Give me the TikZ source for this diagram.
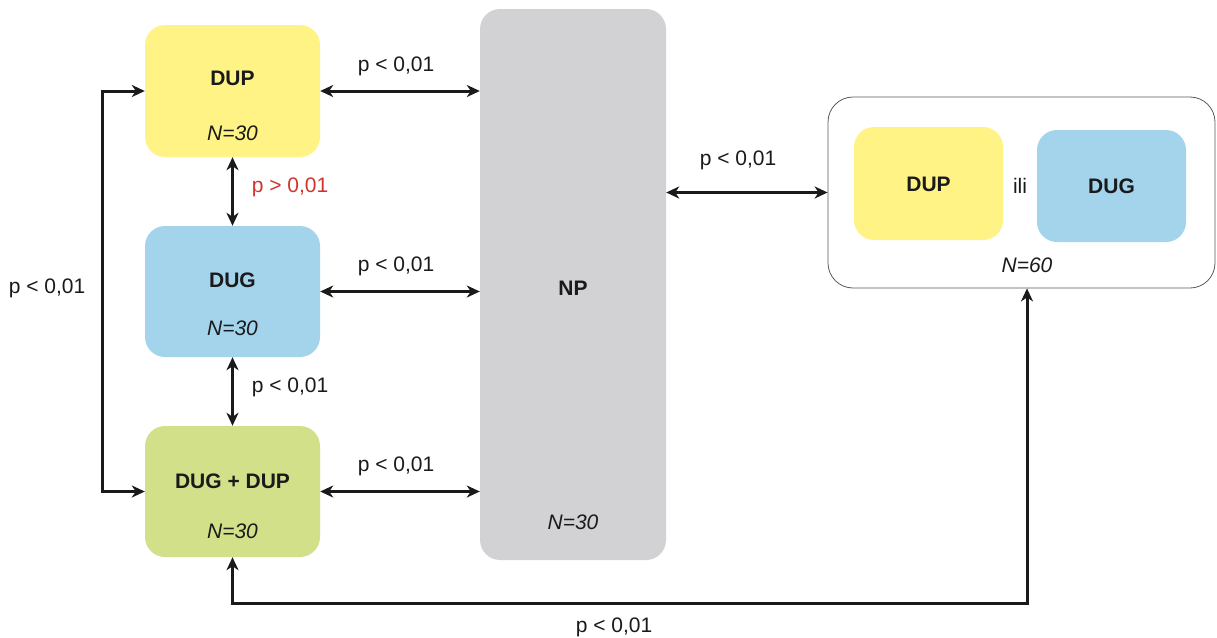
\documentclass[tikz,border=0pt]{standalone}
\usepackage{fontspec}
\setmainfont{Liberation Sans}
\usetikzlibrary{arrows.meta,calc}
\definecolor{cyel}{HTML}{FFF386}
\definecolor{cblu}{HTML}{A3D4EC}
\definecolor{cgrn}{HTML}{D3E08A}
\definecolor{cgry}{HTML}{D2D2D4}
\definecolor{cred}{HTML}{D0342C}
\definecolor{cline}{HTML}{1A1A1A}
\tikzset{
  box/.style={rectangle, rounded corners=20pt, draw=none, inner sep=0pt},
  bt/.style={font=\fontsize{21}{25}\selectfont\bfseries, text=cline},
  it/.style={font=\fontsize{21}{25}\selectfont\itshape, text=cline},
  lb/.style={font=\fontsize{21}{25}\selectfont, text=cline},
  conn/.style={line width=3pt, draw=cline, {Stealth[length=13pt,width=12pt,inset=4pt]}-{Stealth[length=13pt,width=12pt,inset=4pt]}},
}
\begin{document}
\begin{tikzpicture}[x=1pt,y=-1pt]
\useasboundingbox (0,0) rectangle (1217,637);
% left boxes
\node[box, fill=cyel, minimum width=175pt, minimum height=132pt] (dup) at (232.5,91) {};
\node[box, fill=cblu, minimum width=175pt, minimum height=131pt] (dug) at (232.5,291.5) {};
\node[box, fill=cgrn, minimum width=175pt, minimum height=131pt] (grn) at (232.5,491.5) {};
\node[bt] (dupt) at (232.5,78) {DUP};
\node[it] (dupn) at (232.5,133) {N=30};
\node[bt] (dugt) at (232.5,280) {DUG};
\node[it] (dugn) at (232.5,328) {N=30};
\node[bt] (grnt) at (232.5,481) {DUG + DUP};
\node[it] (grnn) at (232.5,531) {N=30};
% NP
\node[box, fill=cgry, minimum width=186pt, minimum height=551pt] (np) at (573,284.5) {};
\node[bt] (npt) at (573,288) {NP};
\node[it] (npn) at (573,522) {N=30};
% right group
\node[rectangle, rounded corners=25pt, draw=black!65, line width=0.8pt, minimum width=387pt, minimum height=191pt] (out) at (1021.5,192.5) {};
\node[box, fill=cyel, minimum width=149pt, minimum height=113pt] (rdup) at (928.5,183.5) {};
\node[box, fill=cblu, minimum width=149pt, minimum height=112pt] (rdug) at (1111.5,186) {};
\node[bt] (rdupt) at (928.5,184) {DUP};
\node[bt] (rdugt) at (1111.5,186) {DUG};
\node[lb] (ili) at (1020,186) {ili};
\node[it] (outn) at (1027,265) {N=60};
% connectors
\draw[conn] (dup.east) -- (dup.east -| np.west);
\draw[conn] (dug.east) -- (dug.east -| np.west);
\draw[conn] (grn.east) -- (grn.east -| np.west);
\draw[conn] (dup.south) -- (dug.north);
\draw[conn] (dug.south) -- (grn.north);
\draw[conn] (dup.west) -- ++(-42,0) |- (grn.west);
\draw[conn] (out.west -| np.east) -- (out.west);
\draw[conn] (grn.south) -- ++(0,46) -| ($(out.south)+(5.5,0)$);
% labels
\node[lb] (l1) at (396,66) {p < 0,01};
\node[lb] (l2) at (396,266) {p < 0,01};
\node[lb] (l3) at (396,466) {p < 0,01};
\node[lb, text=cred] (l4) at (290,187) {p > 0,01};
\node[lb] (l5) at (290,387) {p < 0,01};
\node[lb] (l6) at (47,288) {p < 0,01};
\node[lb] (l7) at (738,160) {p < 0,01};
\node[lb] (l8) at (614,627) {p < 0,01};
\end{tikzpicture}
\end{document}
